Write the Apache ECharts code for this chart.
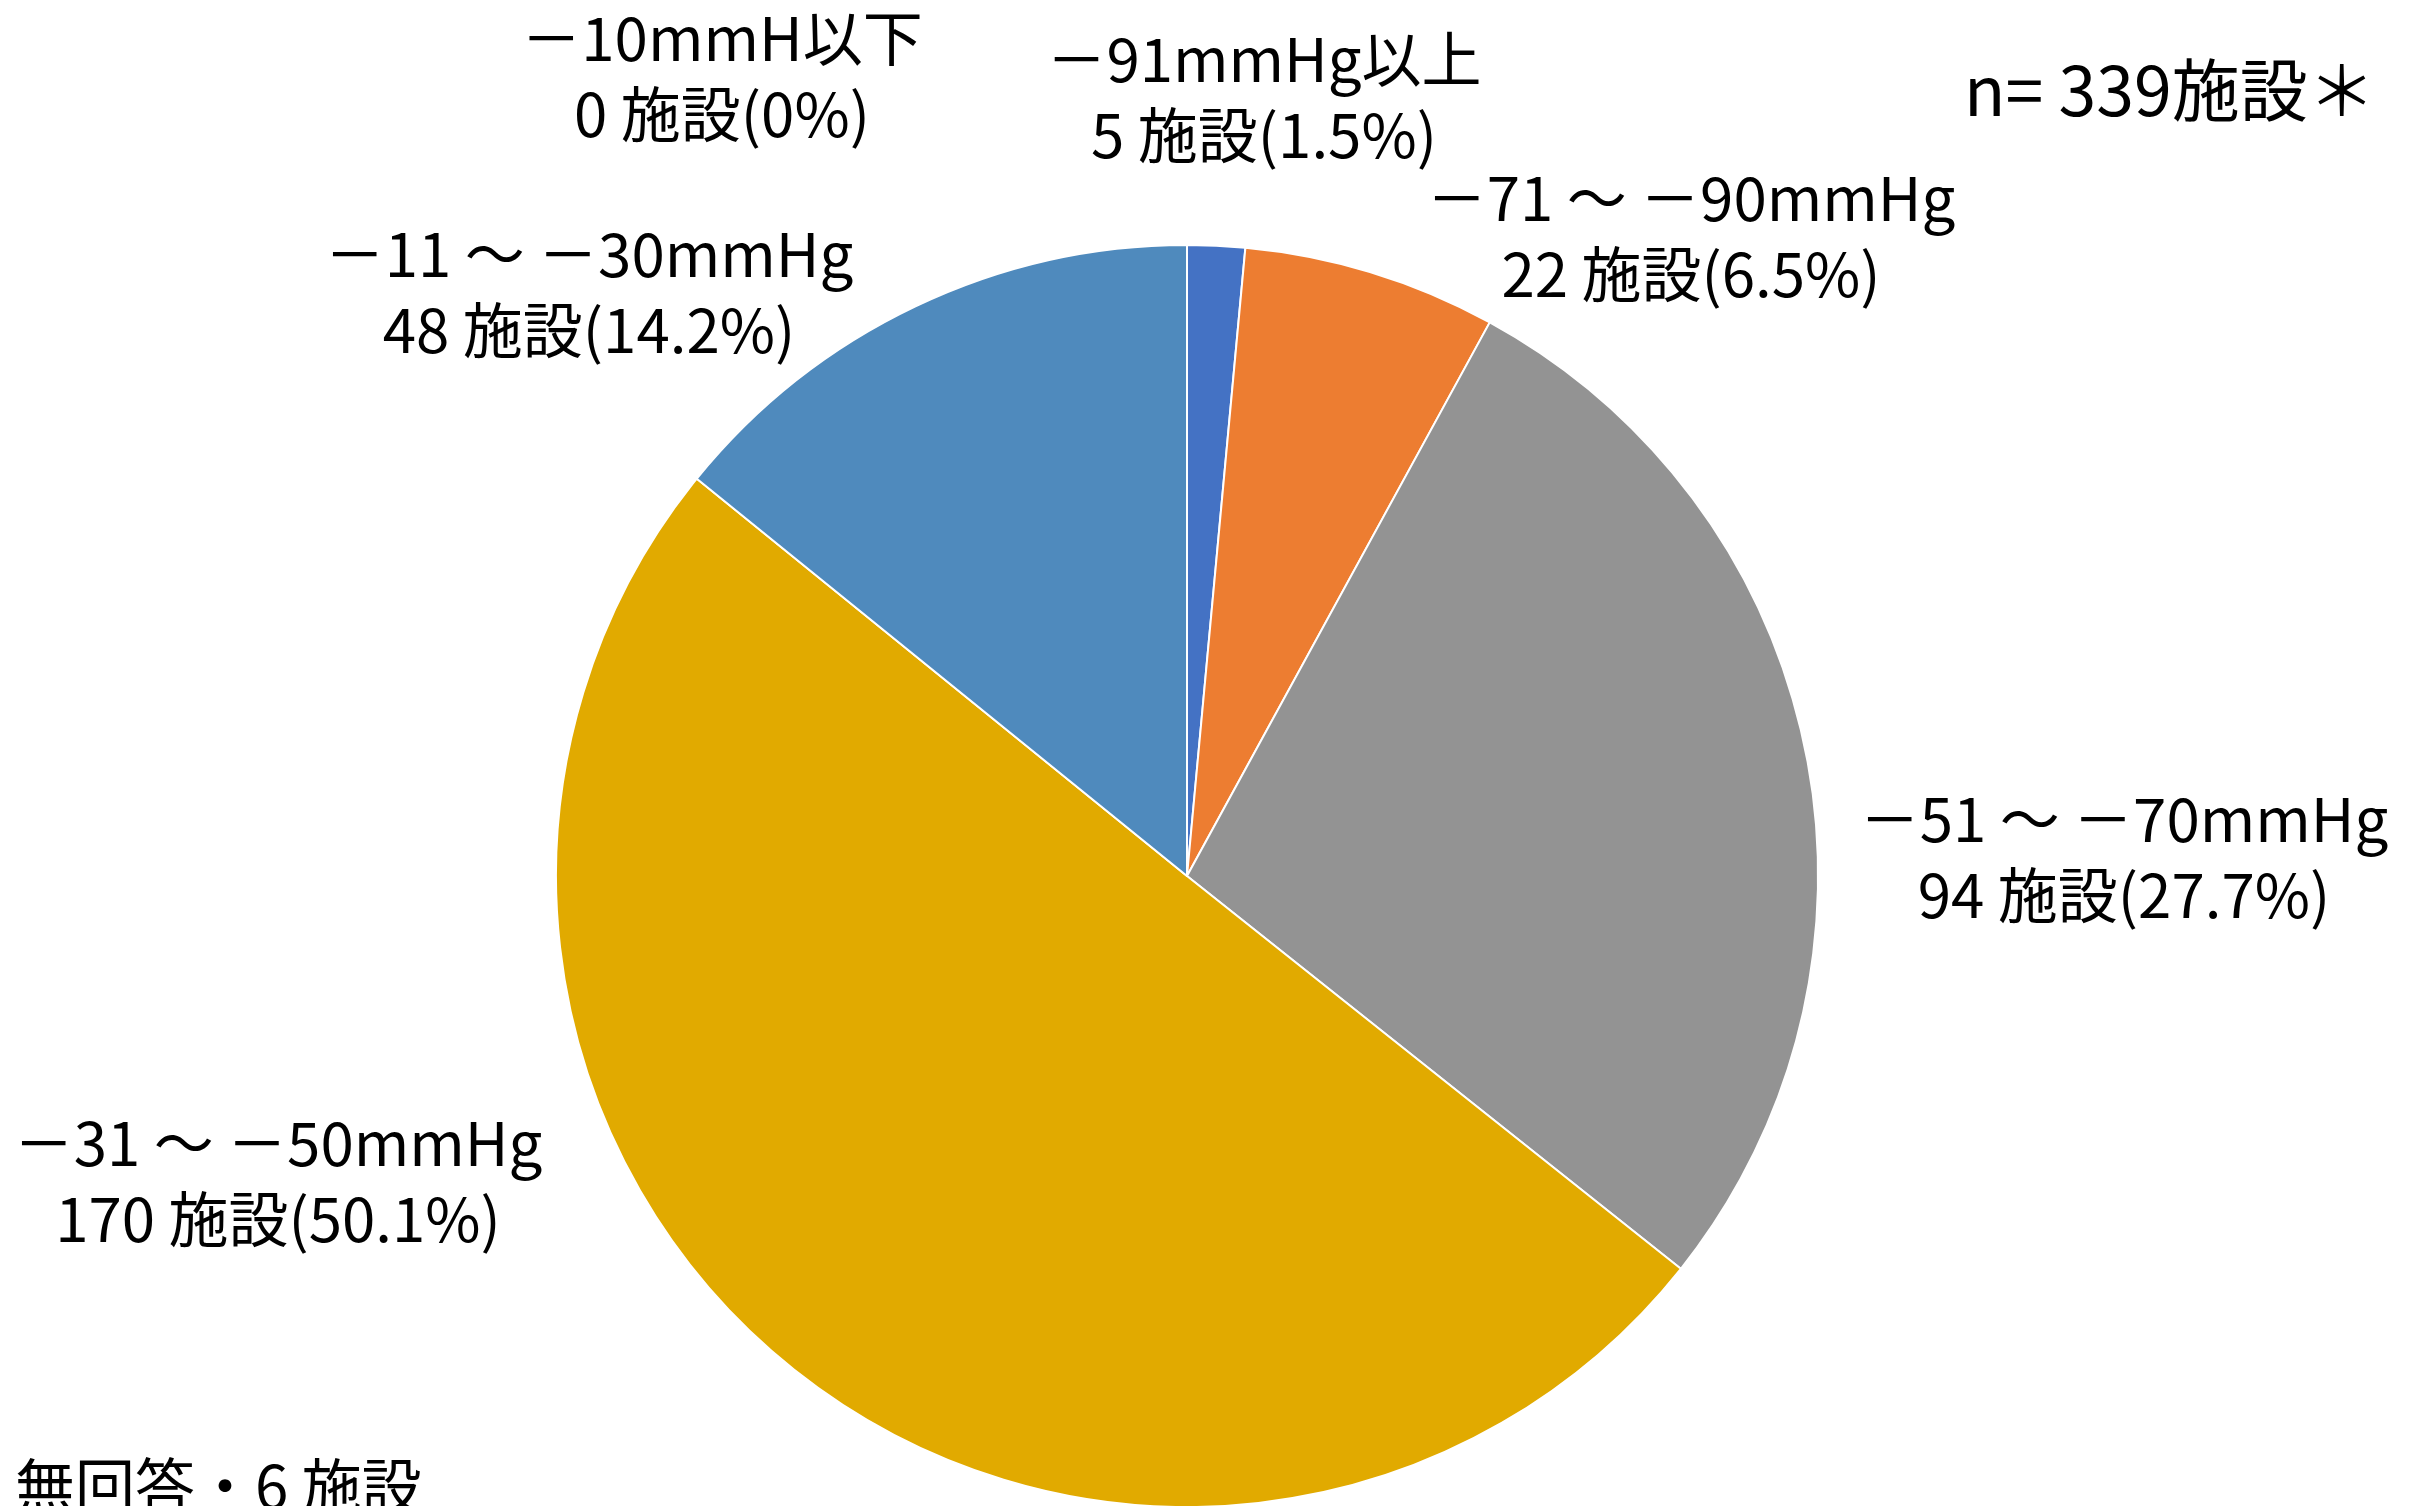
<!DOCTYPE html>
<html>
<head>
<meta charset="utf-8">
<script src="https://cdn.jsdelivr.net/npm/echarts@6/dist/echarts.min.js"></script>
<style>
  html, body { margin: 0; padding: 0; background: #ffffff; }
  #chart { width: 2421px; height: 1506px; }
</style>
</head>
<body>
<div id="chart"></div>
<script>
// Pressure ranges, listed clockwise from 12 o'clock
const categories = [
  '－91mmHg以上',
  '－71 ～ －90mmHg',
  '－51 ～ －70mmHg',
  '－31 ～ －50mmHg',
  '－11 ～ －30mmHg',
  '－10mmH以下'
];
const facilityCounts = [5, 22, 94, 170, 48, 0];
const percentLabels = ['1.5', '6.5', '27.7', '50.1', '14.2', '0'];
const sliceColors = ['#4472C4', '#ED7D31', '#939393', '#E1AA00', '#4F8ABD', '#5B9BD5'];
const totalLabel = 'n= 339施設＊';
const noAnswerLabel = '無回答・6 施設';

// Label anchor points (centre of each two-line label block)
const labelAnchors = [
  [1264, 97],
  [1691, 236],
  [2124, 857],
  [278, 1181],
  [589, 292],
  [722, 76]
];

const FONT = '"Noto Sans CJK JP", "Noto Sans", sans-serif';

const chart = echarts.init(document.getElementById('chart'), null, { renderer: 'canvas' });

chart.setOption({
  backgroundColor: '#ffffff',
  animation: false,
  graphic: [
    {
      type: 'text',
      left: 1964,
      top: 56,
      style: { text: totalLabel, font: '68px ' + FONT, fill: '#000000' }
    },
    {
      type: 'text',
      left: 15,
      top: 1456,
      style: { text: noAnswerLabel, font: '60px ' + FONT, fill: '#000000' }
    }
  ],
  series: [
    {
      type: 'pie',
      center: [1187, 876],
      radius: 631,
      startAngle: 90,
      clockwise: true,
      minAngle: 0,
      avoidLabelOverlap: false,
      stillShowZeroSum: true,
      itemStyle: { borderColor: '#ffffff', borderWidth: 2 },
      emphasis: { disabled: true },
      labelLine: { show: false },
      label: {
        show: true,
        position: 'outside',
        color: '#000000',
        fontFamily: FONT,
        fontSize: 60,
        lineHeight: 76,
        align: 'center',
        formatter: (p) => categories[p.dataIndex] + '\n' +
          facilityCounts[p.dataIndex] + ' 施設(' + percentLabels[p.dataIndex] + '%)'
      },
      labelLayout: (params) => ({
        x: labelAnchors[params.dataIndex][0],
        y: labelAnchors[params.dataIndex][1],
        align: 'center',
        verticalAlign: 'middle'
      }),
      data: categories.map((name, i) => ({
        name: name,
        value: facilityCounts[i],
        itemStyle: { color: sliceColors[i] }
      }))
    }
  ]
});
</script>
</body>
</html>
